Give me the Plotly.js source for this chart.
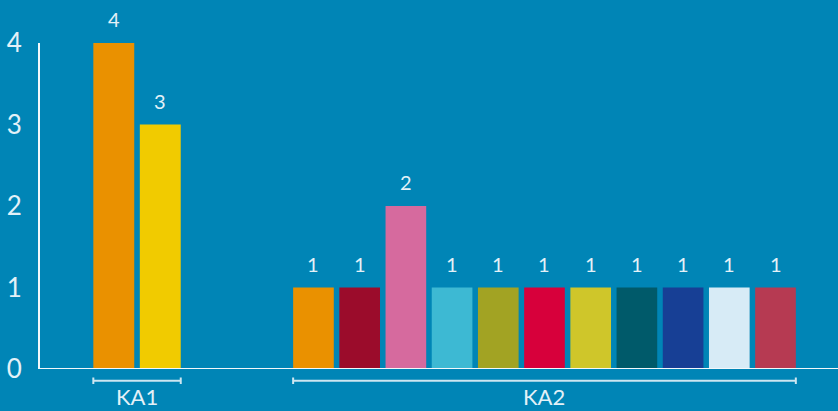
<!DOCTYPE html>
<html>
<head>
<meta charset="utf-8">
<script src="https://cdn.plot.ly/plotly-3.0.1.min.js"></script>
<style>html,body{margin:0;padding:0;background:#0085b6;}#chart{width:838px;height:411px;}</style>
</head>
<body>
<div id="chart"></div>
<script>
// ---- data ----
var groupNames = ["KA1", "KA2"];
var ka1Categories = ["a1", "a2"];
var ka1Values = [4, 3];
var ka1Colors = ["#ea9100", "#f1cb00"];
var ka2Categories = ["b1", "b2", "b3", "b4", "b5", "b6", "b7", "b8", "b9", "b10", "b11"];
var ka2Values = [1, 1, 2, 1, 1, 1, 1, 1, 1, 1, 1];
var ka2Colors = ["#ea9100", "#9b0c2b", "#d66a9e", "#3db9d3", "#a2a323", "#d7003b", "#cfc62a", "#005a6a", "#173f95", "#d7ebf6", "#b63a52"];
var yTicks = [0, 1, 2, 3, 4];

var txtColor = "#e3f1f8";
var fontFam = "Lato, 'Open Sans', sans-serif";
var bargap = 0.12;

var traces = [
  {type: "bar", x: ka1Categories, y: ka1Values, marker: {color: ka1Colors}, xaxis: "x", yaxis: "y", hoverinfo: "none"},
  {type: "bar", x: ka2Categories, y: ka2Values, marker: {color: ka2Colors}, xaxis: "x2", yaxis: "y", hoverinfo: "none"}
];

var annotations = [];
var shapes = [];
function addGroup(cats, vals, xref, name) {
  cats.forEach(function (c, i) {
    annotations.push({x: c, y: vals[i], xref: xref, yref: "y", text: String(vals[i]), showarrow: false,
      yanchor: "bottom", yshift: 10, font: {family: fontFam, size: 20, color: txtColor}});
  });
  var x0 = -0.5 + bargap / 2, x1 = cats.length - 1 + 0.5 - bargap / 2;
  var yb = -0.036, yt = -0.026, ybt = -0.046;
  var lc = "#cde6f1";
  shapes.push({type: "line", xref: xref, yref: "paper", x0: x0, x1: x1, y0: yb, y1: yb, line: {color: lc, width: 2}});
  shapes.push({type: "line", xref: xref, yref: "paper", x0: x0, x1: x0, y0: yt, y1: ybt, line: {color: lc, width: 2}});
  shapes.push({type: "line", xref: xref, yref: "paper", x0: x1, x1: x1, y0: yt, y1: ybt, line: {color: lc, width: 2}});
  annotations.push({x: (cats.length - 1) / 2, xref: xref, y: -0.085, yref: "paper", text: name, showarrow: false,
    yanchor: "middle", borderpad: 0, font: {family: fontFam, size: 22, color: txtColor}});
}
addGroup(ka1Categories, ka1Values, "x", groupNames[0]);
addGroup(ka2Categories, ka2Values, "x2", groupNames[1]);

// baseline x axis line across the whole plot width
shapes.push({type: "line", xref: "paper", yref: "y", x0: 0, x1: 1, y0: 0, y1: 0, line: {color: "#f2f8fb", width: 2}});

var layout = {
  width: 838, height: 411,
  margin: {l: 39, r: 0, t: 43, b: 42},
  paper_bgcolor: "#0085b6", plot_bgcolor: "#0085b6",
  showlegend: false,
  bargap: bargap,
  xaxis: {domain: [0.0645, 0.1809], range: [-0.5, 1.5], showticklabels: false, showgrid: false, zeroline: false, showline: false, ticks: "", fixedrange: true},
  xaxis2: {domain: [0.3146, 0.9507], range: [-0.5, 10.5], anchor: "y", showticklabels: false, showgrid: false, zeroline: false, showline: false, ticks: "", fixedrange: true},
  yaxis: {range: [0, 4], anchor: "free", position: 0, tickvals: yTicks, ticktext: yTicks.map(String), showgrid: false, zeroline: false,
    showline: true, linecolor: "#f2f8fb", linewidth: 2, ticks: "", ticklabelstandoff: 11,
    tickfont: {family: fontFam, size: 26, color: txtColor}, fixedrange: true},
  annotations: annotations,
  shapes: shapes
};

Plotly.newPlot("chart", traces, layout, {displayModeBar: false, staticPlot: true});
</script>
</body>
</html>
